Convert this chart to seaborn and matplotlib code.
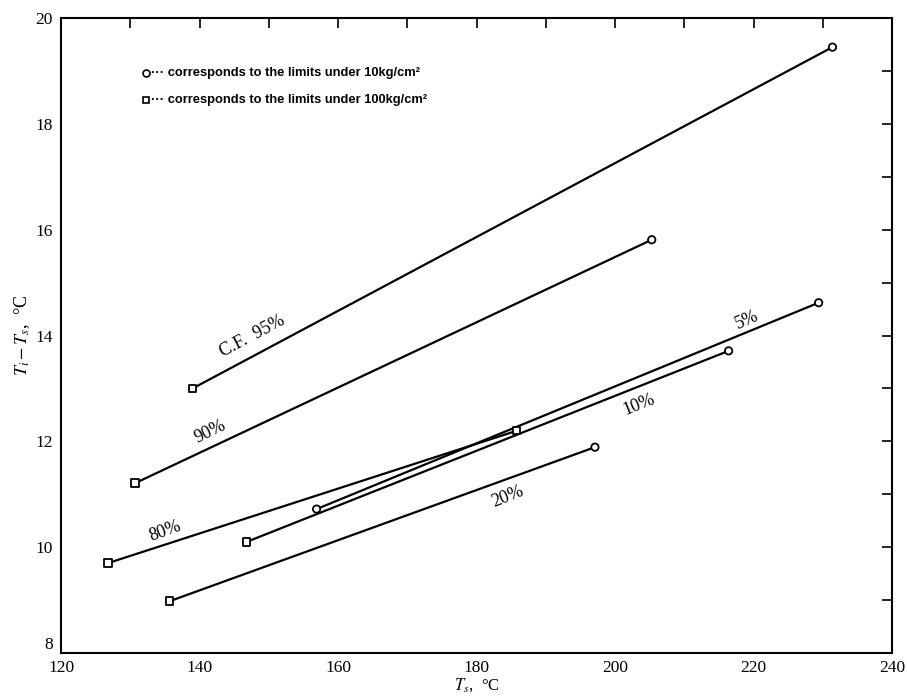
import matplotlib
matplotlib.use("Agg")
import matplotlib.pyplot as plt
import seaborn as sns
import pandas as pd
from matplotlib.ticker import MultipleLocator

sns.set_theme(style="white")
plt.rcParams['font.family'] = ['Liberation Serif', 'DejaVu Serif']
plt.rcParams['mathtext.fontset'] = 'stix'
plt.rcParams['text.color'] = 'black'
plt.rcParams['axes.labelcolor'] = 'black'

# ---- data ----
labels = ["C.F.  95%", "90%", "80%", "5%", "10%", "20%"]
x_start = [139.0, 130.7, 126.8, 156.9, 146.8, 135.7]
y_start = [13.00, 11.21, 9.70, 10.72, 10.10, 8.98]
x_end = [231.4, 205.3, 185.8, 229.4, 216.4, 197.1]
y_end = [19.45, 15.81, 12.20, 14.62, 13.71, 11.89]
# limit type at each end: "10" -> circle (10 kg/cm2), "100" -> square (100 kg/cm2)
start_limit = ["100", "100", "100", "10", "100", "100"]
end_limit = ["10", "10", "100", "10", "10", "10"]

x_ticks = [120, 140, 160, 180, 200, 220, 240]
y_ticks = [8, 10, 12, 14, 16, 18, 20]

rows = []
for lab, xs, ys, xe, ye, ls, le in zip(labels, x_start, y_start, x_end, y_end,
                                       start_limit, end_limit):
    rows.append(dict(series=lab, x=xs, y=ys, limit=ls))
    rows.append(dict(series=lab, x=xe, y=ye, limit=le))
df = pd.DataFrame(rows)

fig = plt.figure(figsize=(9.07, 6.99), dpi=100)
ax = fig.add_axes([0.0673, 0.0658, 0.9162, 0.9084])

sns.lineplot(data=df, x="x", y="y", units="series", estimator=None, sort=False,
             color="black", linewidth=1.6, ax=ax, legend=False)
sns.scatterplot(data=df, x="x", y="y", style="limit",
                markers={"10": "o", "100": "s"}, facecolor="white",
                edgecolor="black", linewidth=1.3, s=28, color="white",
                ax=ax, legend=False, zorder=5)

ax.set_xlim(120, 240)
ax.set_ylim(8, 20)
ax.set_xticks(x_ticks)
ax.set_yticks(y_ticks)
ax.xaxis.set_minor_locator(MultipleLocator(10))
ax.yaxis.set_minor_locator(MultipleLocator(1))
ax.tick_params(which="both", direction="in", top=True, right=True,
               length=7, width=1.2, labelsize=12.5, colors="black")
ax.tick_params(axis="x", pad=5)
ax.tick_params(axis="y", pad=6)
for sp in ax.spines.values():
    sp.set_color("black")
    sp.set_linewidth(1.5)
fig.canvas.draw()
ax.get_yticklabels()[0].set_verticalalignment("bottom")

ax.set_xlabel(r"$T_s$,  °C", fontsize=12, labelpad=0)
ax.set_ylabel(r"$T_i - T_s$,  °C", fontsize=13, labelpad=2)

# curve labels (centre positions)
label_pos = [(147.6, 13.98, 28), (141.5, 12.18, 26), (135.0, 10.30, 20),
             (219.1, 14.30, 24), (203.5, 12.70, 22), (184.5, 10.95, 22)]
for lab, (lx, ly, rot) in zip(labels, label_pos):
    ax.text(lx, ly, lab, fontsize=13, rotation=rot, ha="center", va="center",
            rotation_mode="anchor", color="black")

# key
ax.plot([132.2], [18.96], marker="o", ms=5, mfc="white", mec="black", mew=1.2)
ax.plot([132.2], [18.45], marker="s", ms=5, mfc="white", mec="black", mew=1.2)
ax.text(133.0, 18.96, "··· corresponds to the limits under 10kg/cm²",
        fontsize=9.3, va="center", color="black", weight="bold",
        family=["Liberation Sans", "DejaVu Sans"])
ax.text(133.0, 18.45, "··· corresponds to the limits under 100kg/cm²",
        fontsize=9.3, va="center", color="black", weight="bold",
        family=["Liberation Sans", "DejaVu Sans"])

fig.savefig("out.png", dpi=100, facecolor="white")
